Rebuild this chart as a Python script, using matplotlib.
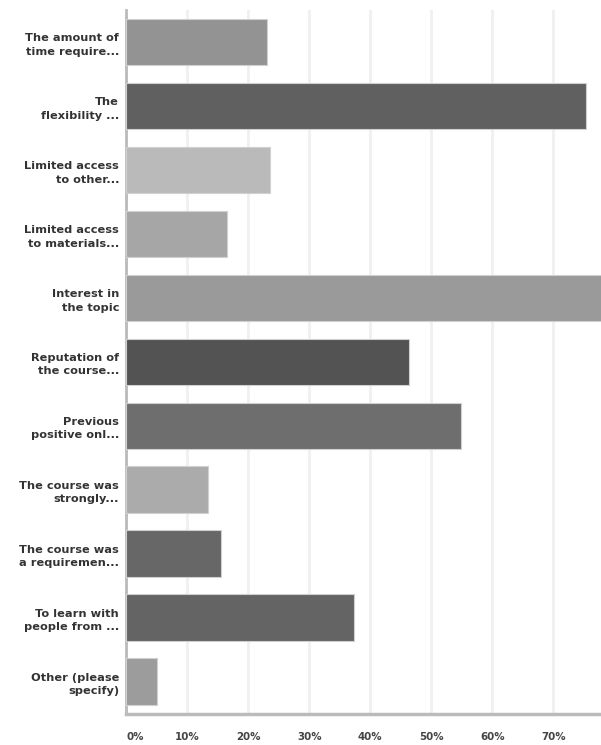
import matplotlib
matplotlib.use("Agg")
import matplotlib.pyplot as plt

# respostas (percentual) por motivo
categorias = [
    "The amount of\ntime require...",
    "The\nflexibility ...",
    "Limited access\nto other...",
    "Limited access\nto materials...",
    "Interest in\nthe topic",
    "Reputation of\nthe course...",
    "Previous\npositive onl...",
    "The course was\nstrongly...",
    "The course was\na requiremen...",
    "To learn with\npeople from ...",
    "Other (please\nspecify)",
]
valores = [23.1, 75.4, 23.6, 16.5, 80.0, 46.4, 54.9, 13.5, 15.5, 37.3, 5.1]
cores = ["#939393", "#606060", "#bababa", "#a6a6a6", "#9a9a9a", "#535353",
         "#6e6e6e", "#ababab", "#676767", "#646464", "#9c9c9c"]
ticks = [0, 10, 20, 30, 40, 50, 60, 70, 80]
tick_labels = ["0%", "10%", "20%", "30%", "40%", "50%", "60%", "70%", "80%"]

fig = plt.figure(figsize=(6.01, 7.45), dpi=100)
# eixo vai um pouco alem da borda direita (80% fica cortado)
ax = fig.add_axes([0.2097, 0.042, 0.8127, 0.9445])

pos = list(range(len(categorias)))
ax.barh(pos, valores, height=0.73, color=cores, edgecolor="#d0d0d0",
        linewidth=0.8, zorder=3)

ax.set_ylim(len(categorias) - 0.5, -0.5)
ax.set_xlim(0, 80)
ax.set_yticks(pos)
ax.set_yticklabels(categorias, fontsize=8.2, fontweight="bold",
                   color="#333333", linespacing=1.45)
ax.tick_params(axis="y", length=0, pad=5)

ax.set_xticks(ticks)
ax.set_xticklabels(tick_labels, fontsize=7.4, fontweight="bold",
                   color="#444444")
ax.get_xticklabels()[0].set_horizontalalignment("left")
ax.tick_params(axis="x", length=0, pad=13)

ax.grid(axis="x", color="#f0f0f0", linewidth=2, zorder=0)
for lado in ["top", "right"]:
    ax.spines[lado].set_visible(False)
ax.spines["left"].set_color("#bbbbbb")
ax.spines["left"].set_linewidth(2)
ax.spines["bottom"].set_color("#bbbbbb")
ax.spines["bottom"].set_linewidth(2.5)

fig.savefig("out.png", dpi=100)
